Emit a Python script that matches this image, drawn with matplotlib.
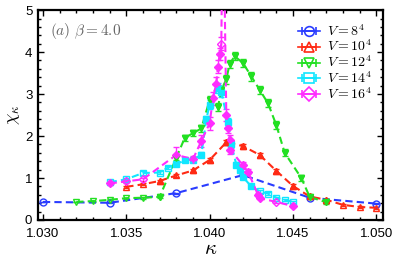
import numpy as np
import matplotlib.pyplot as plt
from matplotlib.ticker import MultipleLocator

plt.rcParams['mathtext.fontset'] = 'cm'
plt.rcParams['font.family'] = ['Liberation Sans', 'DejaVu Sans']

# V = 8^4
k8 = [1.030, 1.034, 1.038, 1.042, 1.046, 1.050]
c8 = [0.43, 0.41, 0.64, 1.07, 0.53, 0.39]
e8 = [0.01, 0.01, 0.01, 0.02, 0.01, 0.01]
f8 = [0, 0, 0, 0, 0, 0]

# V = 10^4
k10 = [1.035, 1.036, 1.037, 1.038, 1.039, 1.040, 1.041, 1.042, 1.043,
       1.044, 1.045, 1.046, 1.047, 1.048, 1.049, 1.050]
c10 = [0.79, 0.85, 0.93, 1.06, 1.18, 1.43, 1.85, 1.76, 1.55,
       1.17, 0.81, 0.56, 0.48, 0.36, 0.31, 0.29]
e10 = [0.02, 0.02, 0.03, 0.03, 0.03, 0.04, 0.06, 0.05, 0.05,
       0.05, 0.04, 0.03, 0.03, 0.02, 0.02, 0.02]
f10 = [0, 0, 1, 0, 1, 1, 1, 1, 1, 1, 1, 1, 1, 0, 0, 0]

# V = 12^4
k12 = [1.032, 1.033, 1.034, 1.035, 1.036, 1.037, 1.038, 1.0385, 1.039,
       1.0395, 1.040, 1.0405, 1.0407, 1.041, 1.0412, 1.0415, 1.042, 1.0425,
       1.043, 1.0435, 1.044, 1.0445, 1.0455, 1.046, 1.047]
c12 = [0.43, 0.45, 0.48, 0.52, 0.53, 0.55, 1.48, 1.95, 2.07,
       2.18, 2.86, 2.69, 3.10, 3.35, 3.72, 3.90, 3.74, 3.42,
       3.10, 2.78, 2.26, 1.60, 1.00, 0.55, 0.42]
e12 = [0.01, 0.01, 0.01, 0.01, 0.02, 0.02, 0.06, 0.07, 0.08,
       0.08, 0.10, 0.10, 0.10, 0.10, 0.10, 0.10, 0.10, 0.10,
       0.10, 0.10, 0.09, 0.08, 0.06, 0.03, 0.03]
f12 = [0, 0, 0, 0, 0, 1, 1, 1, 1, 1, 1, 1, 1, 1, 1, 1, 1, 1,
       1, 1, 1, 1, 1, 1, 1]

# V = 14^4
k14 = [1.034, 1.035, 1.036, 1.037, 1.0375, 1.038, 1.0385, 1.039, 1.0395,
       1.0398, 1.040, 1.0405, 1.0407, 1.0411, 1.0413, 1.0416, 1.0418, 1.042,
       1.0425, 1.043, 1.0435, 1.044, 1.0445, 1.045]
c14 = [0.90, 0.97, 1.12, 1.13, 1.25, 1.33, 1.42, 1.44, 1.55,
       2.40, 2.75, 3.15, 3.05, 2.33, 1.80, 1.32, 1.20, 1.02,
       0.80, 0.68, 0.63, 0.53, 0.48, 0.43]
e14 = [0.03, 0.03, 0.04, 0.04, 0.04, 0.04, 0.05, 0.05, 0.06,
       0.08, 0.10, 0.12, 0.12, 0.10, 0.08, 0.06, 0.05, 0.04,
       0.03, 0.03, 0.03, 0.02, 0.02, 0.02]
f14 = [0, 0, 0, 0, 0, 1, 1, 1, 1, 1, 1, 1, 1, 1, 1, 1, 1, 1,
       1, 0, 0, 0, 0, 0]

# V = 16^4 (one point lies above the plotted range)
k16 = [1.034, 1.035, 1.036, 1.038, 1.039, 1.0395, 1.040, 1.0402, 1.0404,
       1.0405, 1.0406, 1.0407, 1.0408, 1.0410, 1.0411, 1.0412, 1.04125,
       1.042, 1.0423, 1.0429, 1.043, 1.044, 1.045]
c16 = [0.87, 0.92, 0.97, 1.55, 1.45, 1.88, 2.30, 2.90, 3.25,
       3.65, 3.95, 4.20, 8.00, 2.50, 2.20, 1.90, 1.67,
       1.30, 1.15, 0.60, 0.52, 0.43, 0.33]
e16 = [0.03, 0.03, 0.04, 0.20, 0.08, 0.15, 0.15, 0.15, 0.15,
       0.15, 0.15, 0.15, 0.20, 0.15, 0.12, 0.12, 0.10,
       0.08, 0.06, 0.04, 0.03, 0.02, 0.02]
f16 = [1, 0, 0, 1, 1, 1, 1, 1, 1, 1, 1, 0, 1, 1, 1, 1, 1,
       1, 1, 1, 1, 0, 1]

labels = [r'$V=8^4$', r'$V=10^4$', r'$V=12^4$', r'$V=14^4$', r'$V=16^4$']
colors = ['#2a3cff', '#ff2a14', '#22e022', '#10e6ff', '#ff2cff']
markers = ['o', '^', 'v', 's', 'D']
msizes = [5.0, 5.0, 5.0, 4.6, 4.2]

series = [(k8, c8, e8, f8), (k10, c10, e10, f10), (k12, c12, e12, f12),
          (k14, c14, e14, f14), (k16, c16, e16, f16)]

fig = plt.figure(figsize=(3.99, 2.66), dpi=100)
ax = fig.add_axes([0.095, 0.173, 0.865, 0.789])

for (k, c, e, f), col, m, ms, lab in zip(series, colors, markers, msizes, labels):
    k = np.array(k)
    c = np.array(c)
    f = np.array(f, dtype=bool)
    ax.errorbar(k, c, yerr=e, color=col, ls=(0, (3.5, 2)), lw=1.5,
                marker=m, ms=ms, mfc='none', mew=1.0,
                capsize=2, elinewidth=1.0, capthick=1.0, zorder=3)
    ax.plot(k[f], c[f], ls='none', marker=m, ms=ms - 1.2, color=col, zorder=4)
    # legend proxy
    ax.errorbar([np.nan], [np.nan], xerr=[1], color=col, ls='-', lw=1.2,
                marker=m, ms=7, mfc='none', mew=1.2, capsize=3,
                elinewidth=1.2, capthick=1.2, label=lab)

ax.set_xlim(1.0297, 1.0504)
ax.set_ylim(0, 5)
ax.xaxis.set_major_locator(MultipleLocator(0.005))
ax.xaxis.set_minor_locator(MultipleLocator(0.001))
ax.yaxis.set_major_locator(MultipleLocator(1))
ax.yaxis.set_minor_locator(MultipleLocator(0.2))
ax.set_xticks([1.030, 1.035, 1.040, 1.045, 1.050])
ax.set_xticklabels(['1.030', '1.035', '1.040', '1.045', '1.050'])
ax.tick_params(which='both', direction='in', top=True, right=True,
               labelsize=9.5, width=1.0)
ax.tick_params(which='major', length=4, pad=4)
ax.tick_params(axis='x', which='major', pad=6)
ax.tick_params(which='minor', length=2)
for s in ax.spines.values():
    s.set_linewidth(1.6)

ax.set_xlabel(r'$\kappa$', fontsize=15, labelpad=-1)
ax.set_ylabel(r'$\chi_\kappa$', fontsize=13, labelpad=2)

ax.text(0.035, 0.95, r'$(a)\ \beta=4.0$', transform=ax.transAxes,
        fontsize=11, color='#666666', ha='left', va='top')

ax.legend(loc='upper right', frameon=False, fontsize=10, handlelength=1.6,
          handletextpad=0.5, labelspacing=0.02, borderaxespad=0.3,
          bbox_to_anchor=(0.995, 0.985))

fig.savefig('out.png', dpi=100)
